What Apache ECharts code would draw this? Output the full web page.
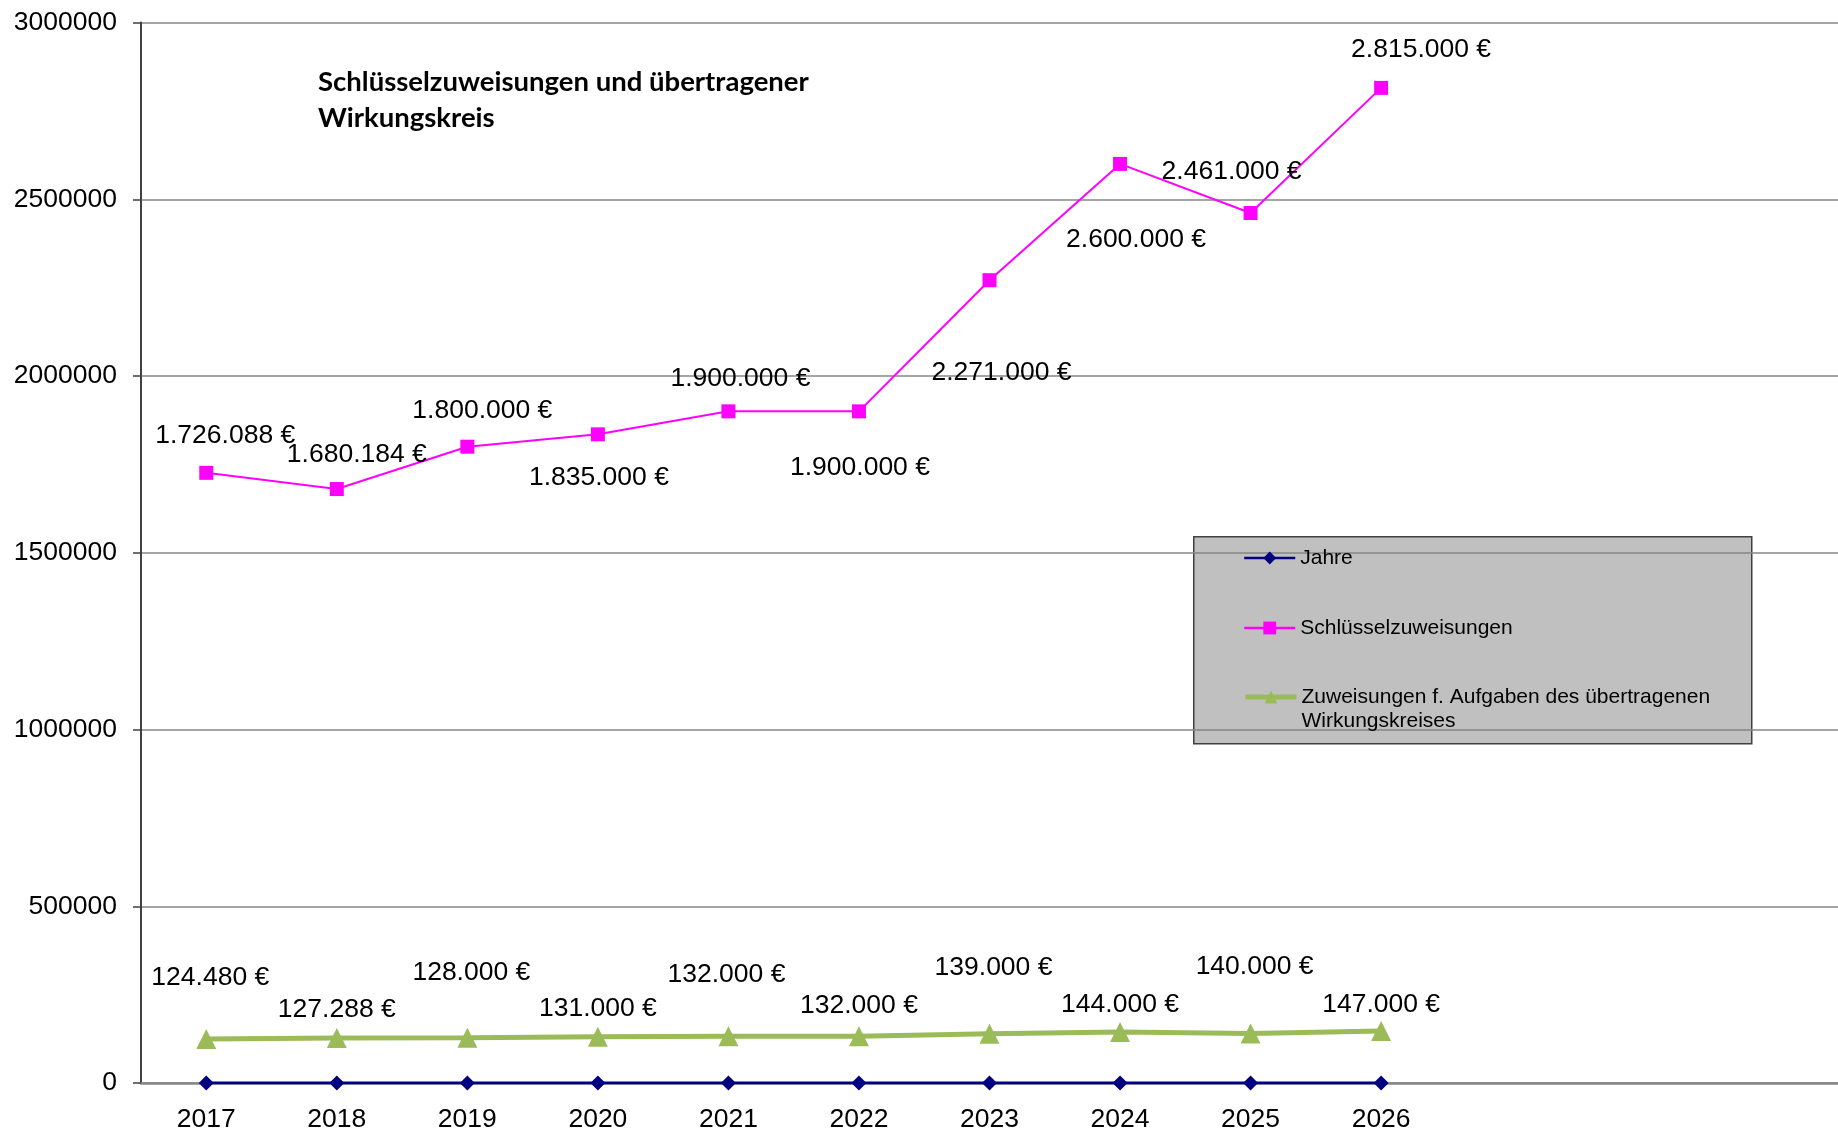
<!DOCTYPE html>
<html>
<head>
<meta charset="utf-8">
<script src="https://cdn.jsdelivr.net/npm/echarts@6/dist/echarts.min.js"></script>
<style>html,body{margin:0;padding:0;background:#fff}#c{width:1838px;height:1134px}</style>
</head>
<body>
<div id="c"></div>
<script>
const years = ['2017','2018','2019','2020','2021','2022','2023','2024','2025','2026'];
const yTicks = [0, 500000, 1000000, 1500000, 2000000, 2500000, 3000000];
const jahre = [0,0,0,0,0,0,0,0,0,0];
const schluessel = [1726088,1680184,1800000,1835000,1900000,1900000,2271000,2600000,2461000,2815000];
const zuweisungen = [124480,127288,128000,131000,132000,132000,139000,144000,140000,147000];
const seriesNames = ['Jahre','Schlüsselzuweisungen','Zuweisungen f. Aufgaben des übertragenen Wirkungskreises'];
const titleText = 'Schlüsselzuweisungen und übertragener\nWirkungskreis';

// label offsets (px) relative to each marker
const schluesselLabelOffsets = [[19,-37],[20,-34],[15,-36],[1,43],[12,-33],[1,56],[12,92],[16,76],[-19,-41],[40,-38]];
const zuweisungenLabelOffsets = [[4,-61],[0,-28],[4,-65],[0,-28],[-2,-62],[0,-31],[4,-66],[0,-27],[4,-67],[0,-26]];

function euro(v){
  return String(v).replace(/\B(?=(\d{3})+(?!\d))/g,'.') + ' €';
}
function withLabels(vals, offs){
  return vals.map((v,i)=>({value:v, label:{offset:offs[i]}}));
}

const FONT = '"Liberation Sans", Arial, sans-serif';
const colors = ['#000080','#ff00ff','#9bbb59'];
const chart = echarts.init(document.getElementById('c'));
chart.setOption({
  animation:false,
  backgroundColor:'#ffffff',
  title:{
    text:titleText, left:318, top:64, padding:0,
    textStyle:{fontFamily:'Lato, "Open Sans", sans-serif', fontWeight:'bold', fontSize:27.5, lineHeight:36, color:'#000'}
  },
  graphic:[{
    type:'rect', left:1193, top:536, z:0,
    shape:{width:558, height:207},
    style:{fill:'#c0c0c0', stroke:'#404040', lineWidth:1.5}
  }],
  legend:[{
    orient:'vertical', left:1243, top:546, padding:0, itemGap:46,
    itemWidth:51, itemHeight:16, z:5,
    data:[
      {name:seriesNames[0], lineStyle:{width:2.5, color:colors[0]}},
      {name:seriesNames[1], lineStyle:{width:2.5, color:colors[1]}}
    ],
    selectedMode:false,
    textStyle:{fontFamily:FONT, fontSize:21, lineHeight:24, color:'#000'}
  },{
    orient:'vertical', left:1243, top:661, padding:0,
    itemWidth:51, itemHeight:16, z:5,
    data:[{name:seriesNames[2], lineStyle:{width:5, color:colors[2]}}],
    selectedMode:false,
    formatter:()=> ' \nZuweisungen f. Aufgaben des übertragenen\nWirkungskreises',
    textStyle:{fontFamily:FONT, fontSize:21, lineHeight:24, color:'#000'}
  }],
  grid:{left:141, right:0, top:22.5, bottom:51, containLabel:false},
  xAxis:{
    type:'category', data:years, boundaryGap:true, max:12,
    axisLine:{show:true, lineStyle:{color:'#868686', width:2.5}},
    axisTick:{show:false},
    axisLabel:{fontFamily:FONT, fontSize:26.5, color:'#000', margin:23, interval:0},
    splitLine:{show:false}
  },
  yAxis:{
    type:'value', min:yTicks[0], max:yTicks[yTicks.length-1], interval:yTicks[1]-yTicks[0],
    axisLine:{show:true, lineStyle:{color:'#404040', width:2}},
    axisTick:{show:true, inside:false, length:8, lineStyle:{color:'#404040', width:1.5}},
    axisLabel:{fontFamily:FONT, fontSize:26.5, color:'#000', margin:24, formatter:v=>String(v)},
    splitLine:{show:true, lineStyle:{color:'#868686', width:1.5}}
  },
  series:[{
    name:seriesNames[0], type:'line', data:jahre,
    symbol:'diamond', symbolSize:15,
    itemStyle:{color:colors[0]},
    lineStyle:{color:colors[0], width:3},
    z:3
  },{
    name:seriesNames[1], type:'line', data:withLabels(schluessel, schluesselLabelOffsets),
    symbol:'rect', symbolSize:14,
    itemStyle:{color:colors[1]},
    lineStyle:{color:colors[1], width:2},
    label:{show:true, position:'inside', formatter:p=>euro(p.value), fontFamily:FONT, fontSize:26.5, color:'#000', align:'center', verticalAlign:'middle'},
    z:3
  },{
    name:seriesNames[2], type:'line', data:withLabels(zuweisungen, zuweisungenLabelOffsets),
    symbol:'triangle', symbolSize:20,
    itemStyle:{color:colors[2]},
    lineStyle:{color:colors[2], width:5},
    label:{show:true, position:'inside', formatter:p=>euro(p.value), fontFamily:FONT, fontSize:26.5, color:'#000', align:'center', verticalAlign:'middle'},
    z:3
  }]
});
</script>
</body>
</html>
